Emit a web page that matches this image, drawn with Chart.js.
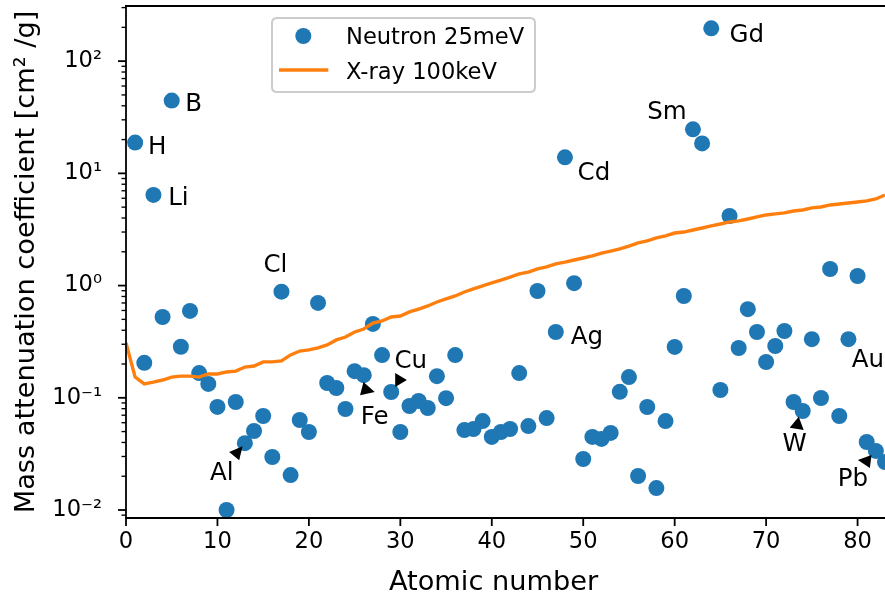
<!DOCTYPE html>
<html>
<head>
<meta charset="utf-8">
<script src="https://cdn.jsdelivr.net/npm/chart.js@4.4.1/dist/chart.umd.min.js"></script>
<style>
html, body { margin: 0; padding: 0; background: #ffffff; }
#wrap { position: relative; width: 885px; height: 596px; }
</style>
</head>
<body>
<div id="wrap"><canvas id="chart" width="885" height="596"></canvas></div>
<script>
// Atomic numbers of the elements with a thermal-neutron value
const atomicNumbers = [
  1, 2, 3, 4, 5, 6, 7, 8, 9, 10,
  11, 12, 13, 14, 15, 16, 17, 18, 19, 20,
  21, 22, 23, 24, 25, 26, 27, 28, 29, 30,
  31, 32, 33, 34, 35, 36, 37, 38, 39, 40,
  41, 42, 43, 44, 45, 46, 47, 48, 49, 50,
  51, 52, 53, 54, 55, 56, 57, 58, 59, 60,
  61, 62, 63, 64, 65, 66, 67, 68, 69, 70,
  71, 72, 73, 74, 75, 76, 77, 78, 79, 80,
  81, 82, 83
];

// Mass attenuation coefficient for 25 meV neutrons [cm^2/g]
const neutron25meV = [
  18.8, 0.205, 6.42, 0.525, 44.5, 0.285, 0.594, 0.166, 0.133, 0.083,
  0.0100, 0.0918, 0.0394, 0.0506, 0.0688, 0.0297, 0.882, 0.0205, 0.0634, 0.0496,
  0.70, 0.1355, 0.1223, 0.0795, 0.1726, 0.159, 0.455, 0.2405, 0.1127, 0.0496,
  0.0845, 0.0936, 0.0811, 0.1558, 0.0992, 0.2405, 0.0516, 0.0527, 0.062, 0.0448,
  0.0496, 0.0527, 0.166, 0.056, 0.895, 0.066, 0.386, 13.9, 1.05, 0.0285,
  0.0448, 0.043, 0.0486, 0.113, 0.153, 0.0201, 0.0828, 0.0157, 0.062, 0.284,
  0.808, 24.7, 18.5, 196, 0.1174, 4.17, 0.278, 0.616, 0.386, 0.2085,
  0.2895, 0.394, 0.0918, 0.0763, 0.333, 0.0996, 1.406, 0.0688, 0.333, 1.218,
  0.0404, 0.0336, 0.0268
];

// Atomic numbers sampled by the X-ray curve
const xrayAtomicNumbers = [
  0, 1, 2, 3, 4, 5, 6, 7, 8, 9,
  10, 11, 12, 13, 14, 15, 16, 17, 18, 19,
  20, 21, 22, 23, 24, 25, 26, 27, 28, 29,
  30, 31, 32, 33, 34, 35, 36, 37, 38, 39,
  40, 41, 42, 43, 44, 45, 46, 47, 48, 49,
  50, 51, 52, 53, 54, 55, 56, 57, 58, 59,
  60, 61, 62, 63, 64, 65, 66, 67, 68, 69,
  70, 71, 72, 73, 74, 75, 76, 77, 78, 79,
  80, 81, 82, 83
];

// Mass attenuation coefficient for 100 keV X-rays [cm^2/g]
const xray100keV = [
  0.308, 0.153, 0.133, 0.138, 0.144, 0.153, 0.156, 0.156, 0.153, 0.163,
  0.163, 0.170, 0.173, 0.188, 0.192, 0.209, 0.209, 0.213, 0.241, 0.261,
  0.267, 0.278, 0.296, 0.328, 0.348, 0.386, 0.410, 0.464, 0.484, 0.525,
  0.536, 0.582, 0.618, 0.658, 0.714, 0.760, 0.808, 0.877, 0.933, 0.992,
  1.055, 1.12, 1.19, 1.27, 1.32, 1.41, 1.47, 1.56, 1.62, 1.69,
  1.76, 1.84, 1.95, 2.03, 2.12, 2.25, 2.40, 2.50, 2.66, 2.77,
  2.94, 3.00, 3.13, 3.26, 3.40, 3.54, 3.69, 3.77, 3.92, 4.09,
  4.26, 4.35, 4.44, 4.62, 4.72, 4.92, 5.02, 5.23, 5.34, 5.45,
  5.56, 5.68, 5.91, 6.42
];

// Elements that get a name label
const labelledElements = ['H', 'B', 'Li', 'Cl', 'Cd', 'Sm', 'Gd', 'Ag', 'Al', 'Fe', 'Cu', 'Au', 'W', 'Pb'];
const labelledZ = [1, 5, 3, 17, 48, 62, 64, 47, 13, 26, 29, 79, 74, 82];

// Axis ticks
const xTickValues = [0, 10, 20, 30, 40, 50, 60, 70, 80];
const xTickLabels = ['0', '10', '20', '30', '40', '50', '60', '70', '80'];
const yTickValues = [0.01, 0.1, 1, 10, 100];
const yTickLabels = ['10\u207B\u00B2', '10\u207B\u00B9', '10\u2070', '10\u00B9', '10\u00B2'];

const seriesNames = ['Neutron 25meV', 'X-ray 100keV'];
const xAxisTitle = 'Atomic number';
const yAxisTitle = 'Mass attenuation coefficient [cm\u00B2 /g]';

// ---- styling ----
const FONT = 'DejaVu Sans';
const BLUE = '#1f77b4';
const ORANGE = '#ff7f0e';

// label text offset (px) from its marker, [dx, dy] to the centre of the capitals
const labelOffsets = {
  H: [22, 3], B: [22, 1], Li: [25, 1.5], Cl: [-6, -29], Cd: [29, 14], Sm: [-26, -19],
  Gd: [35.5, 5], Ag: [31, 3], Al: [-23, 27.5], Fe: [11, 39.5], Cu: [19.5, -33],
  Au: [19.5, 19], W: [-8, 31.5], Pb: [-23, 26.5]
};
// arrow heads (tip, base corner, base corner) relative to the marker, px
const arrowHeads = {
  Al: [[-2.3, 3], [-15.7, 8.7], [-5.7, 17]],
  Fe: [[-0.3, 6.7], [-3.7, 20], [11, 16.7]],
  Cu: [[15.7, -12], [4, -19], [4, -5]],
  W:  [[-4, 5.7], [-13, 16.7], [1, 19]],
  Pb: [[-4.3, 4], [-18, 9], [-6, 17]]
};

const neutronPoints = atomicNumbers.map((z, i) => ({ x: z, y: neutron25meV[i] }));
const xrayPoints = xrayAtomicNumbers.map((z, i) => ({ x: z, y: xray100keV[i] }));

// ticks, spines, element labels, x title and legend
const decorations = {
  id: 'decorations',
  afterDatasetsDraw(chart) {
    const { ctx, scales: { x, y } } = chart;
    ctx.save();
    ctx.fillStyle = '#000';
    ctx.font = '24.5px "' + FONT + '"';
    ctx.textAlign = 'center';
    ctx.textBaseline = 'alphabetic';
    labelledElements.forEach((name, k) => {
      const z = labelledZ[k];
      const px = x.getPixelForValue(z);
      const py = y.getPixelForValue(neutron25meV[atomicNumbers.indexOf(z)]);
      const off = labelOffsets[name];
      ctx.fillText(name, px + off[0], py + off[1] + 8.9);
      const head = arrowHeads[name];
      if (head) {
        ctx.beginPath();
        ctx.moveTo(px + head[0][0], py + head[0][1]);
        ctx.lineTo(px + head[1][0], py + head[1][1]);
        ctx.lineTo(px + head[2][0], py + head[2][1]);
        ctx.closePath();
        ctx.fill();
      }
    });
    ctx.restore();
  },
  afterDraw(chart) {
    const { ctx, chartArea: a, scales: { x, y } } = chart;
    ctx.save();
    ctx.strokeStyle = '#000';
    const seg = (x1, y1, x2, y2) => { ctx.beginPath(); ctx.moveTo(x1, y1); ctx.lineTo(x2, y2); ctx.stroke(); };
    // spines
    ctx.lineWidth = 1.8;
    ctx.lineCap = 'square';
    seg(a.left, a.top, a.left, a.bottom);
    seg(a.left, a.bottom, a.right + 2, a.bottom);
    seg(a.left, a.top, a.right + 2, a.top);
    ctx.lineCap = 'butt';
    // major ticks
    xTickValues.forEach(v => { const p = x.getPixelForValue(v); seg(p, a.bottom, p, a.bottom + 8); });
    yTickValues.forEach(v => { const p = y.getPixelForValue(v); seg(a.left - 8, p, a.left, p); });
    // minor ticks on the log axis
    ctx.lineWidth = 1.35;
    for (let e = -3; e <= 2; e++) {
      for (let m = 2; m <= 9; m++) {
        const v = m * Math.pow(10, e);
        if (v < y.min || v > y.max) continue;
        const p = y.getPixelForValue(v);
        seg(a.left - 4.5, p, a.left, p);
      }
    }
    // x axis title
    ctx.fillStyle = '#000';
    ctx.font = '27.2px "' + FONT + '"';
    ctx.textAlign = 'center';
    ctx.textBaseline = 'alphabetic';
    ctx.fillText(xAxisTitle, (a.left + a.right) / 2 - 12, 590);
    // legend
    const L = 272, T = 18, R = 535, B = 92, r = 5;
    ctx.beginPath();
    ctx.moveTo(L + r, T);
    ctx.lineTo(R - r, T); ctx.quadraticCurveTo(R, T, R, T + r);
    ctx.lineTo(R, B - r); ctx.quadraticCurveTo(R, B, R - r, B);
    ctx.lineTo(L + r, B); ctx.quadraticCurveTo(L, B, L, B - r);
    ctx.lineTo(L, T + r); ctx.quadraticCurveTo(L, T, L + r, T);
    ctx.closePath();
    ctx.fillStyle = 'rgba(255,255,255,0.8)';
    ctx.fill();
    ctx.strokeStyle = '#cccccc';
    ctx.lineWidth = 2;
    ctx.stroke();
    ctx.fillStyle = BLUE;
    ctx.beginPath(); ctx.arc(303.3, 36, 8, 0, Math.PI * 2); ctx.fill();
    ctx.strokeStyle = ORANGE; ctx.lineWidth = 3.4;
    seg(279, 70, 328.3, 70);
    ctx.fillStyle = '#000';
    ctx.font = '22.6px "' + FONT + '"';
    ctx.textAlign = 'left';
    ctx.fillText(seriesNames[0], 346, 44.2);
    ctx.fillText(seriesNames[1], 346, 78.7);
    ctx.restore();
  }
};

new Chart(document.getElementById('chart'), {
  type: 'scatter',
  data: {
    datasets: [
      {
        label: seriesNames[1],
        data: xrayPoints,
        showLine: true,
        borderColor: ORANGE,
        backgroundColor: ORANGE,
        borderWidth: 3.4,
        pointRadius: 0,
        pointHoverRadius: 0,
        tension: 0,
        order: 0
      },
      {
        label: seriesNames[0],
        data: neutronPoints,
        backgroundColor: BLUE,
        borderColor: BLUE,
        borderWidth: 0,
        pointRadius: 8,
        pointHoverRadius: 8,
        order: 1
      }
    ]
  },
  options: {
    responsive: false,
    devicePixelRatio: 1,
    animation: false,
    events: [],
    layout: { autoPadding: false, padding: { top: 6, left: 0, right: 0, bottom: 0 } },
    plugins: { legend: { display: false }, tooltip: { enabled: false } },
    scales: {
      x: {
        type: 'linear',
        min: 0,
        max: 83,
        afterBuildTicks: s => { s.ticks = xTickValues.map(v => ({ value: v })); },
        ticks: {
          callback: (v, i) => xTickLabels[i],
          color: '#000',
          font: { family: FONT, size: 22.6 },
          padding: 3,
          maxRotation: 0,
          autoSkip: false
        },
        grid: { display: false },
        border: { display: false },
        title: { display: false },
        afterFit: s => { s.height = 78; s.paddingLeft = 0; s.paddingRight = 0; }
      },
      y: {
        type: 'logarithmic',
        min: 0.00849,
        max: 310,
        afterBuildTicks: s => { s.ticks = yTickValues.map(v => ({ value: v })); },
        ticks: {
          callback: (v, i) => yTickLabels[i],
          color: '#000',
          font: { family: FONT, size: 22.6 },
          padding: 16,
          autoSkip: false
        },
        grid: { display: false },
        border: { display: false },
        title: {
          display: true,
          text: yAxisTitle,
          color: '#000',
          font: { family: FONT, size: 27.2 },
          padding: { top: 11, bottom: 0 }
        },
        afterFit: s => { s.width = 126; s.paddingTop = 0; s.paddingBottom = 0; }
      }
    }
  },
  plugins: [decorations]
});
</script>
</body>
</html>
